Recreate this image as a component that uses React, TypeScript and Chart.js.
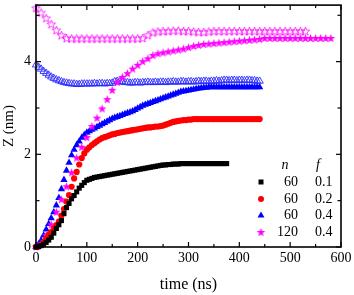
import React, { useEffect, useRef } from 'react';
import { Chart, registerables } from 'chart.js';
Chart.register(...registerables);

const FONT = "'Liberation Serif', 'Times New Roman', serif";

// time grids (ns)
const timeFine = [0,5,10,15,20,25,30,35,40,45,50,55,60,65,70,75,80,85,90,95,100,105,110,115,120,125,130,135,140,145,150,155,160,165,170,175,180,185,190,195,200,205,210,215,220,225,230,235,240,245,250,255,260,265,270,275,280,285,290,295,300,305,310,315,320,325,330,335,340,345,350,355,360,365,370,375,380,385,390,395,400,405,410,415,420,425,430,435,440];
const timeCoarse = [0,10,20,30,40,50,60,70,80,90,100,110,120,130,140,150,160,170,180,190,200,210,220,230,240,250,260,270,280,290,300,310,320,330,340,350,360,370,380,390,400,410,420,430,440,450,460,470,480,490,500,510,520,530,540,550,560,570,580];

// n=60, f=0.1 (black squares), on timeFine
const zBlack = [0,0.01,0.03,0.06,0.1,0.15,0.21,0.3,0.4,0.48,
0.57,0.72,0.85,0.94,1.04,1.11,1.19,1.27,1.33,1.39,
1.44,1.46,1.48,1.5,1.51,1.52,1.53,1.54,1.55,1.56,
1.57,1.58,1.59,1.6,1.61,1.62,1.63,1.64,1.65,1.66,
1.67,1.68,1.69,1.7,1.71,1.72,1.73,1.74,1.75,1.76,
1.77,1.77,1.78,1.78,1.79,1.79,1.79,1.8,1.8,1.8,
1.8,1.8,1.8,1.8,1.8,1.8,1.8,1.8,1.8,1.8,
1.8,1.8,1.8,1.8,1.8,1.8];

// n=60, f=0.2 (red circles)
const zRed = [0,0.01,0.04,0.1,0.18,0.26,0.32,0.4,0.47,0.55,
0.68,0.82,0.98,1.12,1.3,1.48,1.62,1.78,1.92,2.02,
2.1,2.15,2.2,2.24,2.28,2.32,2.35,2.37,2.39,2.41,
2.43,2.44,2.46,2.47,2.48,2.49,2.5,2.51,2.52,2.53,
2.54,2.55,2.56,2.57,2.58,2.58,2.59,2.6,2.6,2.61,
2.62,2.64,2.66,2.68,2.7,2.71,2.72,2.73,2.74,2.74,
2.75,2.75,2.76,2.76,2.76,2.76,2.76,2.76,2.76,2.76,
2.76,2.76,2.76,2.76,2.76,2.76,2.76,2.76,2.76,2.76,
2.76,2.76,2.76,2.76,2.76,2.76,2.76,2.76,2.76];

// n=60, f=0.4 (blue filled triangles)
const zBlue = [0,0.06,0.14,0.25,0.38,0.5,0.62,0.75,0.9,1.06,
1.25,1.45,1.65,1.82,1.98,2.1,2.2,2.28,2.36,2.42,
2.47,2.5,2.53,2.56,2.59,2.62,2.65,2.68,2.71,2.74,
2.77,2.79,2.81,2.83,2.85,2.87,2.89,2.91,2.93,2.96,
2.99,3.02,3.05,3.07,3.09,3.11,3.13,3.15,3.17,3.19,
3.21,3.23,3.25,3.27,3.29,3.31,3.33,3.35,3.36,3.37,
3.38,3.39,3.4,3.41,3.42,3.43,3.44,3.44,3.45,3.45,
3.45,3.45,3.45,3.45,3.45,3.45,3.45,3.45,3.45,3.45,
3.45,3.45,3.45,3.45,3.45,3.45,3.45,3.45,3.45];

// open blue triangles
const zBlueOpen = [3.93,3.88,3.84,3.79,3.75,3.71,3.67,3.64,3.61,3.59,
3.57,3.55,3.54,3.53,3.52,3.52,3.51,3.51,3.52,3.52,
3.52,3.52,3.52,3.53,3.52,3.53,3.53,3.52,3.53,3.53,
3.54,3.57,3.58,3.57,3.56,3.55,3.55,3.54,3.54,3.55,
3.55,3.54,3.55,3.55,3.56,3.55,3.55,3.56,3.55,3.56,
3.56,3.55,3.56,3.56,3.57,3.56,3.56,3.57,3.57,3.56,
3.57,3.57,3.56,3.57,3.58,3.57,3.58,3.58,3.57,3.58,
3.58,3.59,3.58,3.59,3.6,3.6,3.59,3.6,3.6,3.59,
3.6,3.6,3.59,3.6,3.6,3.59,3.59,3.58,3.58];

// n=120, f=0.4 (magenta filled stars), on timeCoarse
const zMagenta = [0,0.07,0.25,0.48,0.75,1.02,1.3,1.6,1.92,2.15,
2.36,2.6,2.78,2.98,3.18,3.38,3.55,3.66,3.74,3.84,
3.92,4.0,4.06,4.13,4.17,4.19,4.21,4.23,4.25,4.27,
4.3,4.33,4.35,4.37,4.38,4.39,4.4,4.41,4.42,4.43,
4.44,4.45,4.46,4.47,4.48,4.5,4.5,4.5,4.5,4.5,
4.5,4.5,4.5,4.5,4.5,4.5,4.5,4.5,4.5];

// open magenta stars
const zMagentaOpen = [5.15,5.05,4.93,4.8,4.67,4.56,4.5,4.49,4.49,4.49,
4.49,4.49,4.49,4.49,4.49,4.49,4.49,4.49,4.49,4.49,
4.49,4.5,4.56,4.62,4.64,4.65,4.65,4.66,4.66,4.65,
4.65,4.64,4.63,4.63,4.64,4.65,4.65,4.65,4.65,4.65,
4.65,4.65,4.65,4.65,4.65,4.65,4.65,4.65,4.65,4.65,
4.65,4.65,4.65,4.65];

const xTickLabels = [0,100,200,300,400,500,600];
const xMinor = [50,150,250,350,450,550];
const yTickLabels = [0,2,4];
const yMinor = [1,3,5];

const legendN = ['60','60','60','120'];
const legendF = ['0.1','0.2','0.4','0.4'];

function zip(t: number[], z: number[]) {
  return z.map((v, i) => ({ x: t[i], y: v }));
}

function makeStar(fill: boolean, color: string, R: number) {
  const size = Math.ceil(R * 2 + 2);
  const c = document.createElement('canvas');
  c.width = size; c.height = size;
  const ctx = c.getContext('2d')!;
  const cx = size / 2, cy = size / 2, r = R * 0.42;
  ctx.beginPath();
  for (let i = 0; i < 10; i++) {
    const a = -Math.PI / 2 + i * Math.PI / 5;
    const rr = i % 2 === 0 ? R : r;
    const px = cx + rr * Math.cos(a), py = cy + rr * Math.sin(a);
    if (i === 0) ctx.moveTo(px, py); else ctx.lineTo(px, py);
  }
  ctx.closePath();
  if (fill) { ctx.fillStyle = color; ctx.fill(); }
  else { ctx.strokeStyle = color; ctx.lineWidth = 0.8; ctx.stroke(); }
  return c;
}

export default function App() {
  const ref = useRef<HTMLCanvasElement | null>(null);
  useEffect(() => {
    document.body.style.margin = '0';
    const canvas = ref.current!;
    const starFill = makeStar(true, '#ff00ff', 4.5);
    const starOpen = makeStar(false, '#ff00ff', 4.5);

    const framePlugin = {
      id: 'frameTicks',
      afterDatasetsDraw(chart: any) {
        const { ctx, chartArea: a, scales } = chart;
        const xs = scales.x, ys = scales.y;
        ctx.save();
        ctx.strokeStyle = '#000';
        ctx.lineWidth = 1.2;
        const tick = (x1: number, y1: number, x2: number, y2: number) => {
          ctx.beginPath(); ctx.moveTo(x1, y1); ctx.lineTo(x2, y2); ctx.stroke();
        };
        xTickLabels.forEach(v => { const p = xs.getPixelForValue(v); tick(p, a.bottom, p, a.bottom - 5); tick(p, a.top, p, a.top + 5); });
        xMinor.forEach(v => { const p = xs.getPixelForValue(v); tick(p, a.bottom, p, a.bottom - 3); tick(p, a.top, p, a.top + 3); });
        yTickLabels.forEach(v => { const p = ys.getPixelForValue(v); tick(a.left, p, a.left + 5, p); tick(a.right, p, a.right - 5, p); });
        yMinor.forEach(v => { const p = ys.getPixelForValue(v); tick(a.left, p, a.left + 3.5, p); tick(a.right, p, a.right - 3.5, p); });
        ctx.lineWidth = 1.6;
        ctx.strokeRect(a.left, a.top, a.right - a.left, a.bottom - a.top);
        ctx.restore();
      },
      afterDraw(chart: any) {
        const { ctx } = chart;
        ctx.save();
        ctx.fillStyle = '#000';
        ctx.textBaseline = 'middle';
        ctx.font = `italic 14px ${FONT}`;
        ctx.textAlign = 'center';
        ctx.fillText('n', 285, 165);
        ctx.fillText('f', 318, 165);
        ctx.font = `14px ${FONT}`;
        const rows = [182, 199, 215.5, 232.5];
        const mx = 261;
        legendN.forEach((n, i) => {
          const y = rows[i];
          ctx.textAlign = 'right';
          ctx.fillStyle = '#000';
          ctx.fillText(n, 298, y);
          ctx.textAlign = 'left';
          ctx.fillText(legendF[i], 315, y);
          if (i === 0) { ctx.fillStyle = '#000'; ctx.fillRect(mx - 2.5, y - 2.5, 5, 5); }
          if (i === 1) { ctx.fillStyle = '#ff0000'; ctx.beginPath(); ctx.arc(mx, y, 3, 0, Math.PI * 2); ctx.fill(); }
          if (i === 2) {
            ctx.fillStyle = '#0000ff'; ctx.beginPath();
            ctx.moveTo(mx, y - 4); ctx.lineTo(mx + 3.5, y + 2); ctx.lineTo(mx - 3.5, y + 2); ctx.closePath(); ctx.fill();
          }
          if (i === 3) { ctx.drawImage(starFill, mx - starFill.width / 2, y - starFill.height / 2); }
        });
        ctx.restore();
      },
    };

    const chart = new Chart(canvas, {
      type: 'scatter',
      data: {
        datasets: [
          { label: 'n=60 f=0.1', data: zip(timeFine, zBlack), pointStyle: 'rect', pointRadius: 3.6, backgroundColor: '#000', borderColor: '#000', borderWidth: 0 },
          { label: 'n=60 f=0.2', data: zip(timeFine, zRed), pointStyle: 'circle', pointRadius: 3.1, backgroundColor: '#ff0000', borderColor: '#ff0000', borderWidth: 0 },
          { label: 'n=120 f=0.4', data: zip(timeCoarse, zMagenta), pointStyle: starFill, backgroundColor: '#ff00ff', borderColor: '#ff00ff' },
          { label: 'n=60 f=0.4', data: zip(timeFine, zBlue), pointStyle: 'triangle', pointRadius: 4.2, backgroundColor: '#0000ff', borderColor: '#0000ff', borderWidth: 0 },
          { label: 'open blue', data: zip(timeFine, zBlueOpen), pointStyle: 'triangle', pointRadius: 4.2, backgroundColor: 'rgba(0,0,0,0)', borderColor: '#2a2aff', borderWidth: 0.9 },
          { label: 'open magenta', data: zip(timeCoarse, zMagentaOpen), pointStyle: starOpen, backgroundColor: 'rgba(0,0,0,0)', borderColor: '#ff00ff' },
        ] as any,
      },
      options: {
        animation: false,
        responsive: false,
        devicePixelRatio: 1,
        layout: { padding: { top: 3, right: 13, left: 0, bottom: 0 } },
        plugins: { legend: { display: false }, tooltip: { enabled: false } },
        datasets: { scatter: { clip: false } } as any,
        scales: {
          x: {
            type: 'linear', min: 0, max: 600,
            afterBuildTicks: (s: any) => { s.ticks = xTickLabels.map(v => ({ value: v })); },
            afterFit: (s: any) => { s.height = 48; s.paddingLeft = 0; s.paddingRight = 0; },
            grid: { display: false, drawTicks: false },
            border: { display: false },
            ticks: { font: { family: FONT, size: 14 }, color: '#000', padding: 3, maxRotation: 0, autoSkip: false },
            title: { display: true, text: 'time (ns)', font: { family: FONT, size: 16 }, color: '#000', padding: { top: 0, bottom: 1 } },
          },
          y: {
            type: 'linear', min: 0, max: 5.22,
            afterBuildTicks: (s: any) => { s.ticks = yTickLabels.map(v => ({ value: v })); },
            afterFit: (s: any) => { s.width = 36; s.paddingTop = 0; s.paddingBottom = 0; },
            grid: { display: false, drawTicks: false },
            border: { display: false },
            ticks: { font: { family: FONT, size: 14 }, color: '#000', padding: 5 },
            title: { display: true, text: 'Z (nm)', font: { family: FONT, size: 15 }, color: '#000', padding: { top: 0, bottom: 0 } },
          },
        },
      } as any,
      plugins: [framePlugin],
    });
    return () => chart.destroy();
  }, []);
  return (
    <div style={{ width: 354, height: 295 }}>
      <canvas ref={ref} width={354} height={295} style={{ display: 'block' }} />
    </div>
  );
}
